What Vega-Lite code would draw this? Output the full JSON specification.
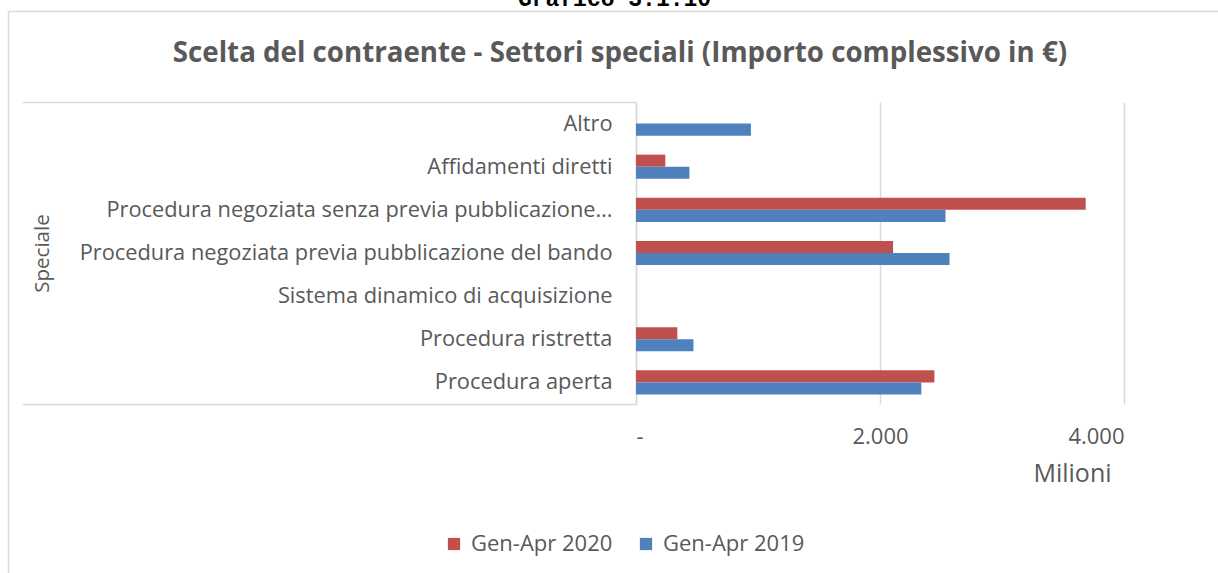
{
  "$schema": "https://vega.github.io/schema/vega-lite/v6.json",
  "autosize": "none",
  "width": 488,
  "height": 302,
  "padding": {"left": 636, "top": 102, "right": 94, "bottom": 169},
  "background": "white",
  "config": {
    "view": {"stroke": null},
    "font": "Open Sans",
    "axis": {"labelFont": "Open Sans", "titleFont": "Open Sans", "labelColor": "#595959", "titleColor": "#595959"}
  },
  "resolve": {"scale": {"y": "independent"}, "axis": {"x": "independent", "y": "independent"}},
  "layer": [
    {
      "data": {"values": [
        {"cat": "Altro", "series": "Gen-Apr 2020", "value": 0},
        {"cat": "Altro", "series": "Gen-Apr 2019", "value": 942},
        {"cat": "Affidamenti diretti", "series": "Gen-Apr 2020", "value": 240},
        {"cat": "Affidamenti diretti", "series": "Gen-Apr 2019", "value": 438},
        {"cat": "Procedura negoziata senza previa pubblicazione…", "series": "Gen-Apr 2020", "value": 3686},
        {"cat": "Procedura negoziata senza previa pubblicazione…", "series": "Gen-Apr 2019", "value": 2537},
        {"cat": "Procedura negoziata previa pubblicazione del bando", "series": "Gen-Apr 2020", "value": 2107},
        {"cat": "Procedura negoziata previa pubblicazione del bando", "series": "Gen-Apr 2019", "value": 2570},
        {"cat": "Sistema dinamico di acquisizione", "series": "Gen-Apr 2020", "value": 0},
        {"cat": "Sistema dinamico di acquisizione", "series": "Gen-Apr 2019", "value": 0},
        {"cat": "Procedura ristretta", "series": "Gen-Apr 2020", "value": 339},
        {"cat": "Procedura ristretta", "series": "Gen-Apr 2019", "value": 471},
        {"cat": "Procedura aperta", "series": "Gen-Apr 2020", "value": 2446},
        {"cat": "Procedura aperta", "series": "Gen-Apr 2019", "value": 2339}
      ]},
      "mark": {"type": "bar"},
      "encoding": {
        "y": {
          "field": "cat", "type": "nominal", "sort": null,
          "scale": {"paddingInner": 0.44, "paddingOuter": 0.22},
          "axis": {
            "title": "Speciale", "titleAngle": -90, "titleX": -594, "titleY": 151,
            "titleAlign": "center", "titleBaseline": "middle", "titleFontSize": 20.5, "titleFontWeight": "normal",
            "labelFontSize": 21.8, "labelPadding": 24, "ticks": false, "tickSize": 0,
            "labelLimit": 700, "domain": true, "domainColor": "#d9d9d9", "domainWidth": 1.5, "grid": false
          }
        },
        "yOffset": {"field": "series", "type": "nominal", "sort": ["Gen-Apr 2020", "Gen-Apr 2019"], "scale": {"paddingInner": 0}},
        "x": {
          "field": "value", "type": "quantitative",
          "scale": {"domain": [0, 4000], "nice": false},
          "axis": {
            "orient": "bottom", "values": [0, 2000, 4000],
            "labelExpr": "datum.value === 0 ? '-   ' : replace(format(datum.value, ','), ',', '.')",
            "labelFontSize": 22, "labelPadding": 22, "ticks": false, "tickSize": 0, "domain": false,
            "grid": true, "gridColor": "#d9d9d9", "gridWidth": 1.5,
            "title": "Milioni", "titleX": 436, "titleY": 77, "titleAlign": "center", "titleBaseline": "alphabetic",
            "titleFontSize": 25, "titleFontWeight": "normal", "titleAngle": 0
          }
        },
        "color": {
          "field": "series", "type": "nominal",
          "scale": {"domain": ["Gen-Apr 2020", "Gen-Apr 2019"], "range": ["#C0504D", "#4F81BD"]},
          "legend": {
            "orient": "none", "legendX": -193, "legendY": 431, "direction": "horizontal", "title": null,
            "symbolType": "square", "symbolSize": 150, "symbolStrokeWidth": 0,
            "labelFontSize": 22, "labelColor": "#595959", "labelFont": "Open Sans", "labelOffset": 6,
            "columnPadding": 22, "padding": 0
          }
        }
      }
    },
    {
      "data": {"values": [{}]},
      "mark": {"type": "rule", "opacity": 0},
      "encoding": {
        "y": {
          "datum": 0, "type": "quantitative",
          "scale": {"domain": [0, 589], "range": [498, -91], "nice": false, "zero": false},
          "axis": {
            "orient": "right", "offset": -1116, "values": [196, 498, 589],
            "labels": false, "grid": false,
            "domain": true, "domainColor": "#d9d9d9", "domainWidth": 1.5,
            "ticks": true, "tickColor": "#d9d9d9", "tickWidth": 1.5,
            "tickSize": {"condition": {"test": "datum.value > 550", "value": 1240}, "value": 628},
            "tickDash": {"condition": {"test": "datum.value > 550", "value": []}, "value": [0, 14, 614, 3000]},
            "title": "Grafico 3.1.10", "titleAngle": 0, "titleX": 606, "titleY": -97,
            "titleAlign": "center", "titleBaseline": "alphabetic",
            "titleFont": "Liberation Mono", "titleFontSize": 23, "titleFontWeight": "bold", "titleColor": "#000000"
          }
        }
      }
    },
    {
      "data": {"values": [{}]},
      "mark": {"type": "rule", "opacity": 0},
      "encoding": {
        "x": {
          "datum": 0, "type": "quantitative",
          "axis": {
            "orient": "top", "labels": false, "ticks": false, "domain": false, "grid": false,
            "title": "Scelta del contraente - Settori speciali (Importo complessivo in €)",
            "titleX": -16.5, "titleY": -41, "titleAlign": "center", "titleBaseline": "alphabetic", "titleAngle": 0,
            "titleFontSize": 27.7, "titleFontWeight": "bold", "titleColor": "#595959"
          }
        }
      }
    }
  ]
}
